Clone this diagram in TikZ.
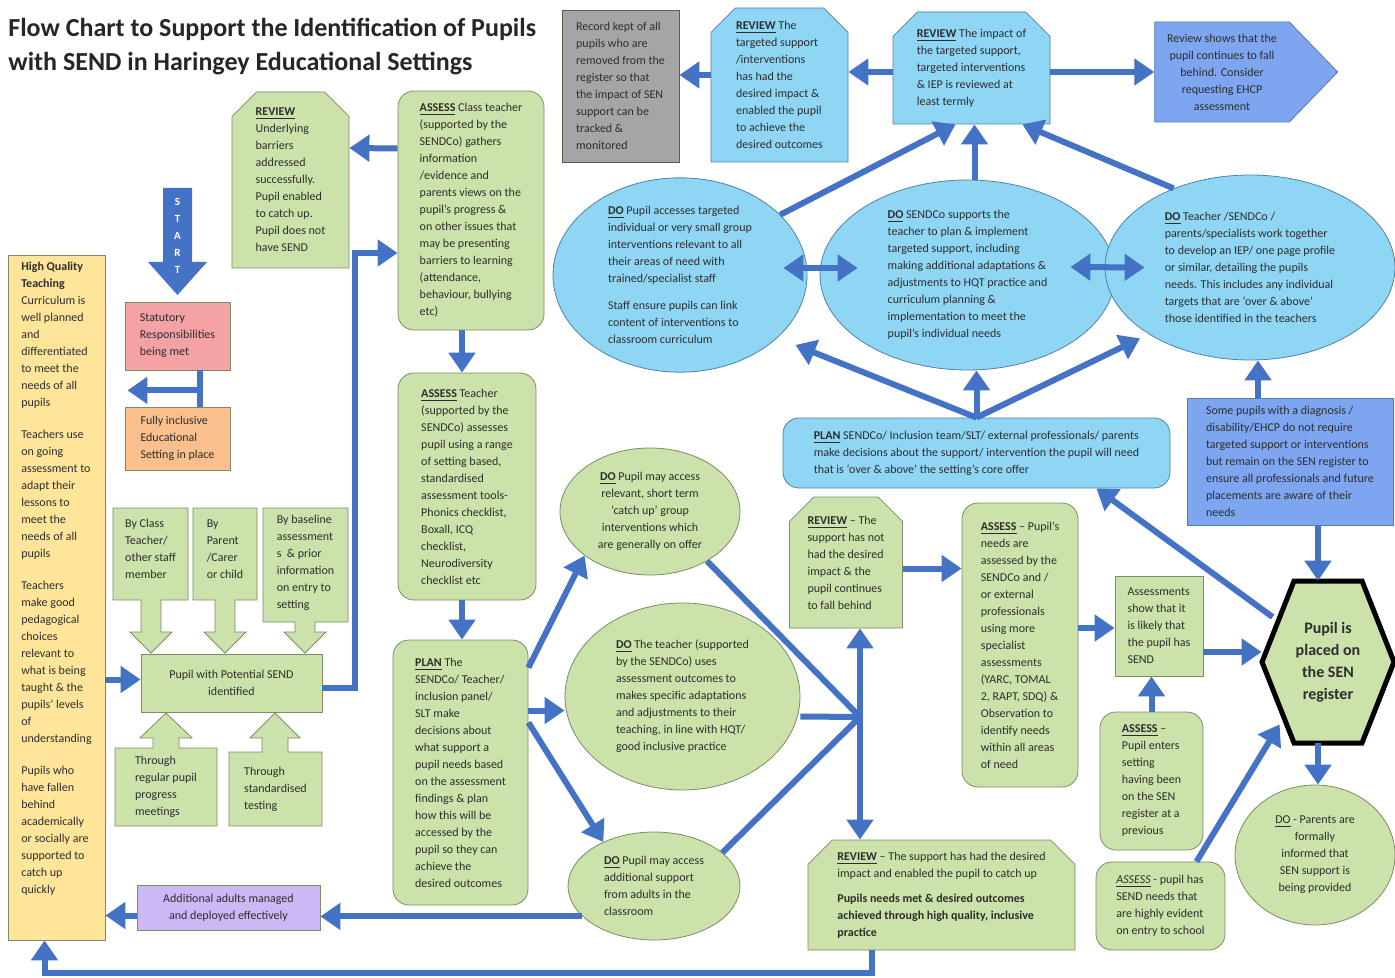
\documentclass[tikz,border=0pt]{standalone}
\usepackage{fontspec}
\setmainfont{Carlito}
\usetikzlibrary{arrows.meta,shapes.geometric,shapes.misc,shapes.symbols}

\definecolor{gfill}{RGB}{203,226,170}
\definecolor{gline}{RGB}{125,140,100}
\definecolor{bfill}{RGB}{143,214,245}
\definecolor{bline}{RGB}{80,130,165}
\definecolor{pfill}{RGB}{125,165,240}
\definecolor{greyfill}{RGB}{165,165,165}
\definecolor{pinkfill}{RGB}{245,162,165}
\definecolor{orgfill}{RGB}{249,192,142}
\definecolor{yelfill}{RGB}{255,229,153}
\definecolor{lilfill}{RGB}{204,184,245}
\definecolor{arrblue}{RGB}{68,114,196}
\definecolor{ink}{RGB}{45,45,45}

\begin{document}
\begin{tikzpicture}[x=0.5pt, y=-0.5pt,
  txt/.style={font=\fontsize{6}{8.5}\selectfont, text=ink, align=left, inner sep=0pt},
  gbox/.style={txt, rectangle, draw=gline, fill=gfill},
  grnd/.style={gbox, rounded corners=8pt},
  gcham/.style={txt, chamfered rectangle, chamfered rectangle corners={north west,north east}, chamfered rectangle xsep=9pt, draw=gline, fill=gfill},
  bcham/.style={gcham, draw=bline, fill=bfill},
  gell/.style={txt, ellipse, draw=gline, fill=gfill},
  bell/.style={txt, ellipse, draw=bline, fill=bfill},
  pbox/.style={txt, rectangle, draw=bline, fill=pfill},
  callg/.style={draw=gline, fill=gfill},
  arr/.style={draw=arrblue, line width=3pt, -{Triangle[length=10pt,width=13pt]}},
  arrs/.style={arr, {Triangle[length=10pt,width=13pt]}-{Triangle[length=10pt,width=13pt]}},
  link/.style={draw=arrblue, line width=3pt}]
  \fill[white] (0,0) rectangle (1395,978);
  \useasboundingbox (0,0) rectangle (1395,978);

  \node[txt, anchor=west, font=\bfseries\fontsize{13}{17}\selectfont, text=black!85] (title) at (8,47)
    {Flow Chart to Support the Identification of Pupils\\with SEND in Haringey Educational Settings};

  \node[gcham, minimum width=58.5pt, minimum height=88pt] (revG) at (290.5,180)
    {\underline{\textbf{REVIEW}}\\Underlying\\barriers\\addressed\\successfully.\\Pupil enabled\\to catch up.\\Pupil does not\\have SEND};
  \node[grnd, minimum width=73pt, minimum height=119.5pt] (as1) at (471,210.5)
    {\underline{\textbf{ASSESS}} Class teacher\\(supported by the\\SENDCo) gathers\\information\\/evidence and\\parents views on the\\pupil's progress \&\\on other issues that\\may be presenting\\barriers to learning\\(attendance,\\behaviour, bullying\\etc)};
  \node[txt, draw=gline!70!black, fill=greyfill, minimum width=58.5pt, minimum height=76pt] (rec) at (620.5,86)
    {Record kept of all\\pupils who are\\removed from the\\register so that\\the impact of SEN\\support can be\\tracked \&\\monitored};
  \node[bcham, minimum width=68.5pt, minimum height=77pt] (revB) at (779.5,85)
    {\underline{\textbf{REVIEW}} The\\targeted support\\/interventions\\has had the\\desired impact \&\\enabled the pupil\\to achieve the\\desired outcomes};
  \node[bcham, minimum width=78.5pt, minimum height=56pt] (revI) at (971.5,68)
    {\underline{\textbf{REVIEW}} The impact of\\the targeted support,\\targeted interventions\\\& IEP is reviewed at\\least termly};
  \node[txt, signal, signal to=east, signal pointer angle=92, draw=bline, fill=pfill, align=center, minimum width=91.5pt, minimum height=50pt] (ehcp) at (1222,72)
    {Review shows that the\\pupil continues to fall\\behind. Consider\\requesting EHCP\\assessment};

  \node[bell, minimum width=127pt, minimum height=93pt] (doA) at (680,275)
    {\underline{\textbf{DO}} Pupil accesses targeted\\individual or very small group\\interventions relevant to all\\their areas of need with\\trained/specialist staff\\[5pt]Staff ensure pupils can link\\content of interventions to\\classroom curriculum};
  \node[bell, minimum width=147.5pt, minimum height=95pt] (doB) at (967.5,275)
    {\underline{\textbf{DO}} SENDCo supports the\\teacher to plan \& implement\\targeted support, including\\making additional adaptations \&\\adjustments to HQT practice and\\curriculum planning \&\\implementation to meet the\\pupil's individual needs};
  \node[bell, minimum width=145pt, minimum height=92.5pt] (doC) at (1250,267.5)
    {\underline{\textbf{DO}} Teacher /SENDCo /\\parents/specialists work together\\to develop an IEP/ one page profile\\or similar, detailing the pupils\\needs. This includes any individual\\targets that are `over \& above'\\those identified in the teachers};

  \node[txt, draw=bline, fill=bfill, rounded corners=8pt, minimum width=193.5pt, minimum height=35pt] (planB) at (976.5,453)
    {\underline{\textbf{PLAN}} SENDCo/ Inclusion team/SLT/ external professionals/ parents\\make decisions about the support/ intervention the pupil will need\\that is `over \& above' the setting's core offer};
  \node[pbox, minimum width=103pt, minimum height=63.5pt] (some) at (1290,461.5)
    {Some pupils with a diagnosis /\\disability/EHCP do not require\\targeted support or interventions\\but remain on the SEN register to\\ensure all professionals and future\\placements are aware of their\\needs};

  \draw[line width=2.5pt, fill=gfill] (1262,662) -- (1294,581) -- (1362,581) -- (1394,662) -- (1362,743) -- (1294,743) -- cycle;
  \node[txt, font=\bfseries\fontsize{8}{11}\selectfont, align=center, minimum width=66pt, minimum height=81pt] (hex) at (1328,662)
    {Pupil is\\placed on\\the SEN\\register};
  \node[gell, align=center, minimum width=80pt, minimum height=70pt] (doP) at (1315,855)
    {\underline{DO} - Parents are\\formally\\informed that\\SEN support is\\being provided};

  \node[gbox, minimum width=44pt, minimum height=50pt] (asm) at (1159,626)
    {Assessments\\show that it\\is likely that\\the pupil has\\SEND};
  \node[grnd, minimum width=51.5pt, minimum height=69pt] (asP) at (1151.5,781)
    {\underline{\textbf{ASSESS}} --\\Pupil enters\\setting\\having been\\on the SEN\\register at a\\previous};
  \node[grnd, minimum width=64.5pt, minimum height=44pt] (asH) at (1160.5,906)
    {\underline{\textit{ASSESS}} - pupil has\\SEND needs that\\are highly evident\\on entry to school};
  \node[grnd, minimum width=58pt, minimum height=142pt] (asS) at (1020,645)
    {\underline{\textbf{ASSESS}} -- Pupil's\\needs are\\assessed by the\\SENDCo and /\\or external\\professionals\\using more\\specialist\\assessments\\(YARC, TOMAL\\2, RAPT, SDQ) \&\\Observation to\\identify needs\\within all areas\\of need};
  \node[gcham, minimum width=54pt, minimum height=65.5pt] (revN) at (846,562.5)
    {\underline{\textbf{REVIEW}} -- The\\support has not\\had the desired\\impact \& the\\pupil continues\\to fall behind};
  \node[gcham, minimum width=133.5pt, minimum height=55pt] (revY) at (941.5,895)
    {\underline{\textbf{REVIEW}} -- The support has had the desired\\impact and enabled the pupil to catch up\\[4pt]\textbf{Pupils needs met \& desired outcomes}\\\textbf{achieved through high quality, inclusive}\\\textbf{practice}};

  \node[gell, align=center, minimum width=90pt, minimum height=63.5pt] (doG1) at (650,511.5)
    {\underline{\textbf{DO}} Pupil may access\\relevant, short term\\`catch up' group\\interventions which\\are generally on offer};
  \node[gell, minimum width=117.5pt, minimum height=93.5pt] (doG2) at (682.5,696.5)
    {\underline{\textbf{DO}} The teacher (supported\\by the SENDCo) uses\\assessment outcomes to\\makes specific adaptations\\and adjustments to their\\teaching, in line with HQT/\\good inclusive practice};
  \node[gell, minimum width=86pt, minimum height=54pt] (doG3) at (654,886)
    {\underline{\textbf{DO}} Pupil may access\\additional support\\from adults in the\\classroom};

  \node[grnd, minimum width=69pt, minimum height=113.5pt] (as2) at (467,486.5)
    {\underline{\textbf{ASSESS}} Teacher\\(supported by the\\SENDCo) assesses\\pupil using a range\\of setting based,\\standardised\\assessment tools-\\Phonics checklist,\\Boxall, ICQ\\checklist,\\Neurodiversity\\checklist etc};
  \node[grnd, minimum width=67.5pt, minimum height=132.5pt] (planG) at (460.5,772.5)
    {\underline{\textbf{PLAN}} The\\SENDCo/ Teacher/\\inclusion panel/\\SLT make\\decisions about\\what support a\\pupil needs based\\on the assessment\\findings \& plan\\how this will be\\accessed by the\\pupil so they can\\achieve the\\desired outcomes};

  \node[txt, draw=gline, fill=lilfill, align=center, minimum width=91.5pt, minimum height=22.5pt] (addl) at (228.5,907.5)
    {Additional adults managed\\and deployed effectively};
  \node[txt, draw=gline, fill=yelfill, minimum width=48.5pt, minimum height=342.5pt] (hqt) at (56.5,597.5) {};
  \node[txt, anchor=north] (hqtT) at ([yshift=-3.5pt]hqt.north)
    {\textbf{High Quality}\\\textbf{Teaching}\\Curriculum is\\well planned\\and\\differentiated\\to meet the\\needs of all\\pupils\\[7.5pt]Teachers use\\on going\\assessment to\\adapt their\\lessons to\\meet the\\needs of all\\pupils\\[7.5pt]Teachers\\make good\\pedagogical\\choices\\relevant to\\what is being\\taught \& the\\pupils' levels\\of\\understanding\\[7.5pt]Pupils who\\have fallen\\behind\\academically\\or socially are\\supported to\\catch up\\quickly};

  \fill[arrblue] (163,188) -- (192,188) -- (192,262) -- (207,262) -- (177.5,295) -- (148,262) -- (163,262) -- cycle;
  \node[txt, font=\bfseries\fontsize{5.5}{8.5}\selectfont, text=white, align=center] (start) at (177.5,236) {S\\T\\A\\R\\T};
  \node[txt, draw=gline, fill=pinkfill, minimum width=52.5pt, minimum height=34pt] (stat) at (177.5,336)
    {Statutory\\Responsibilities\\being met};
  \node[txt, draw=gline, fill=orgfill, minimum width=52.5pt, minimum height=31.5pt] (incl) at (177.5,438.5)
    {Fully inclusive\\Educational\\Setting in place};

  \draw[callg] (113,508) -- (188,508) -- (188,600) -- (161,600) -- (161,632) -- (172,632) -- (151,653) -- (130,632) -- (141,632) -- (141,600) -- (113,600) -- cycle;
  \draw[callg] (193,508) -- (257,508) -- (257,600) -- (235,600) -- (235,632) -- (246,632) -- (225,653) -- (204,632) -- (215,632) -- (215,600) -- (193,600) -- cycle;
  \draw[callg] (263,508) -- (348,508) -- (348,622) -- (315,622) -- (315,632) -- (326,632) -- (305,653) -- (284,632) -- (295,632) -- (295,622) -- (263,622) -- cycle;
  \node[txt] (byT) at (150.5,549) {By Class\\Teacher/\\other staff\\member};
  \node[txt] (byP) at (225,549) {By\\Parent\\/Carer\\or child};
  \node[txt] (byB) at (305.5,563) {By baseline\\assessment\\s~~\& prior\\information\\on entry to\\setting};
  \node[gbox, align=center, minimum width=90.5pt, minimum height=29pt] (psend) at (231.5,683)
    {Pupil with Potential SEND\\identified};
  \draw[callg] (115,748) -- (153,748) -- (153,738) -- (140,738) -- (166,713) -- (192,738) -- (179,738) -- (179,748) -- (217,748) -- (217,826) -- (115,826) -- cycle;
  \draw[callg] (229,752) -- (262,752) -- (262,738) -- (250,738) -- (275,713) -- (300,738) -- (288,738) -- (288,752) -- (322,752) -- (322,826) -- (229,826) -- cycle;
  \node[txt] (upR) at (166,787) {Through\\regular pupil\\progress\\meetings};
  \node[txt] (upS) at (275.5,789) {Through\\standardised\\testing};

  \draw[arr] ([yshift=31pt]as1.west) -- ([yshift=16pt]revG.east);
  \draw[arr] ([yshift=5pt]revB.west) -- ([yshift=5pt]revB.west -| rec.east);
  \draw[arr] ([yshift=-2pt]revI.west) -- ([yshift=-2pt]revI.west -| revB.east);
  \draw[arr] ([yshift=-2pt]revI.east) -- ([yshift=-2pt]revI.east -| ehcp.west);
  \draw[arr] (doA.31) -- ([xshift=-8pt]revI.south);
  \draw[arr] ([xshift=3.5pt]doB.north) -- ([xshift=3.5pt]doB.north |- revI.south);
  \draw[arr] (doC.134) -- ([xshift=-14pt]revI.south east);
  \draw[arrs] ([xshift=-12pt,yshift=3.5pt]doA.east) -- ([xshift=19pt,yshift=3.5pt]doB.west);
  \draw[arrs] ([xshift=-22.5pt,yshift=4pt]doB.east) -- ([xshift=20pt]doC.west);
  \draw[arr] (planB.north) -- ([xshift=-6pt,yshift=-35pt]doA.east);
  \draw[arr] (planB.north) -- (planB.north |- doB.south);
  \draw[arr] (planB.north) -- ([xshift=-55pt,yshift=11pt]doC.south);
  \draw[arr] ([xshift=-16pt]some.north) -- ([xshift=-16pt]some.north |- doC.south);
  \draw[arr] ([xshift=14pt]some.south) -- ([xshift=14pt]some.south |- hex.north);
  \draw[arr] ([xshift=5.5pt,yshift=22.5pt]hex.west) -- ([xshift=60pt]planB.south);
  \draw[arr] ([xshift=-5pt]hex.south) -- ([xshift=-5pt]hex.south |- doP.north);
  \draw[arr] ([yshift=-13pt]asm.east) -- ([yshift=-13pt]asm.east -| hex.west);
  \draw[arr] (asP.north) -- (asP.north |- asm.south);
  \draw[arr] ([xshift=18pt]asH.north) -- ([xshift=9pt,yshift=9.5pt]hex.south west);
  \draw[arr] ([yshift=8.5pt]asS.east) -- ([yshift=8.5pt]asS.east -| asm.west);
  \draw[arr] ([yshift=-3pt]revN.east) -- ([yshift=-3pt]revN.east -| asS.west);

  \coordinate (j) at (860,717);
  \draw[link] (doG1.-41) -- (j);
  \draw[link] ([yshift=-10pt]doG2.east) -- (j);
  \draw[link] (doG3.26) -- (j);
  \draw[arrs] (j |- revN.south) -- (j |- revY.north);

  \draw[arr] ([xshift=-4.5pt]as1.south) -- ([xshift=-4.5pt]as1.south |- as2.north);
  \draw[arr] ([xshift=-2.5pt]as2.south) -- ([xshift=-2.5pt]as2.south |- planG.north);
  \draw[arr] ([yshift=-14pt]planG.north east) -- (doG1.214);
  \draw[arr] ([yshift=31pt]planG.east) -- ([yshift=31pt]planG.east -| doG2.west);
  \draw[arr] ([yshift=25pt]planG.east) -- (doG3.139);
  \draw[arr] (doG3.203) -- (doG3.203 -| addl.east);
  \draw[arr] ([yshift=-4pt]addl.west) -- ([yshift=-4pt]addl.west -| hqt.east);
  \draw[arr] ([xshift=-35pt]revY.south) |- ([xshift=-6pt,yshift=-16.5pt]hqt.south) -- ([xshift=-6pt]hqt.south);
  \draw[arr] ([yshift=-41pt]hqt.east) -- ([yshift=-41pt]hqt.east -| psend.west);
  \draw[arr] ([yshift=-2.5pt]psend.east) -| ([xshift=-21.5pt,yshift=-21.25pt]as1.west) -- ([yshift=-21.25pt]as1.west);
  \draw[link] ([xshift=11pt]stat.south) -- ([xshift=11pt]incl.north);
  \draw[arr] ([xshift=11pt,yshift=-10pt]stat.south) -- ([xshift=11pt,yshift=-10pt]stat.south -| hqt.east);
\end{tikzpicture}
\end{document}
